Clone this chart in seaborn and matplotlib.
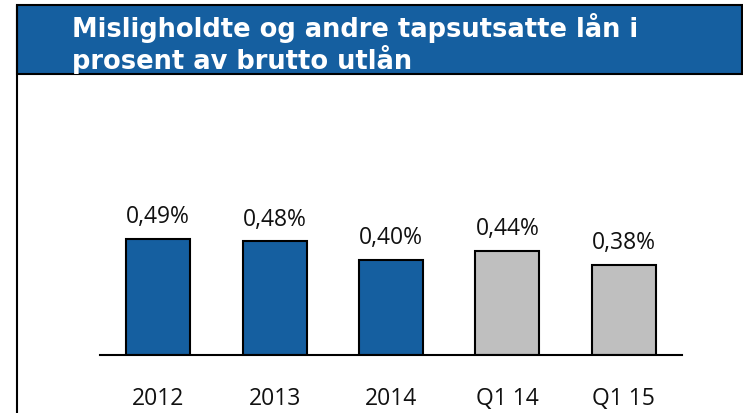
import matplotlib
matplotlib.use("Agg")
import matplotlib.pyplot as plt
import seaborn as sns
import pandas as pd
from matplotlib.patches import Rectangle
from matplotlib.lines import Line2D

categories = ["2012", "2013", "2014", "Q1 14", "Q1 15"]
values = [0.49, 0.48, 0.40, 0.44, 0.38]
bar_colors = ["#155FA0", "#155FA0", "#155FA0", "#BFBFBF", "#BFBFBF"]
title_lines = ["Misligholdte og andre tapsutsatte lån i", "prosent av brutto utlån"]

W, H = 743, 413
sns.set_style("white")
plt.rcParams["font.family"] = ["Open Sans", "DejaVu Sans"]

fig = plt.figure(figsize=(W / 100, H / 100), dpi=100)

# plot area: baseline at y=355px, x from 100 to 682 px, ~237 px per 1 %
px_per_unit = 237
ymax = 0.62
ax_h = ymax * px_per_unit
ax = fig.add_axes([100 / W, (H - 355) / H, 582 / W, ax_h / H])

df = pd.DataFrame({"cat": categories, "val": values})
sns.barplot(data=df, x="cat", y="val", hue="cat", palette=bar_colors,
            legend=False, width=0.55, edgecolor="black", linewidth=1.5,
            saturation=1, ax=ax)

for c in ax.containers:
    ax.bar_label(c, labels=[f"{v:.2f}%".replace(".", ",") for v in c.datavalues],
                 padding=7, fontsize=16.5, color="#111111")

ax.set_xlim(-0.5, 4.5)
ax.set_ylim(0, ymax)
ax.set_xlabel("")
ax.set_ylabel("")
ax.set_yticks([])
ax.tick_params(axis="x", length=0, pad=23, labelsize=16.5, labelcolor="#111111")
sns.despine(ax=ax, left=True, top=True, right=True)
ax.spines["bottom"].set_linewidth(1.5)
ax.spines["bottom"].set_color("black")
ax.patch.set_alpha(0)

# header band
header = Rectangle((17 / W, (H - 74) / H), (742 - 17) / W, 69 / H,
                   transform=fig.transFigure, facecolor="#155FA0",
                   edgecolor="black", linewidth=1.5, zorder=0)
fig.patches.append(header)
fig.lines.append(Line2D([17 / W, 17 / W], [0, (H - 5) / H], transform=fig.transFigure,
                        color="black", linewidth=1.5))
for i, line in enumerate(title_lines):
    t = fig.text(72 / W, (H - 37 - 32 * i) / H, line, color="white", fontsize=18.5,
                 fontweight="bold", family="DejaVu Sans", va="baseline", ha="left")
    t.set_clip_path(header)

fig.savefig("out.png", dpi=100)
